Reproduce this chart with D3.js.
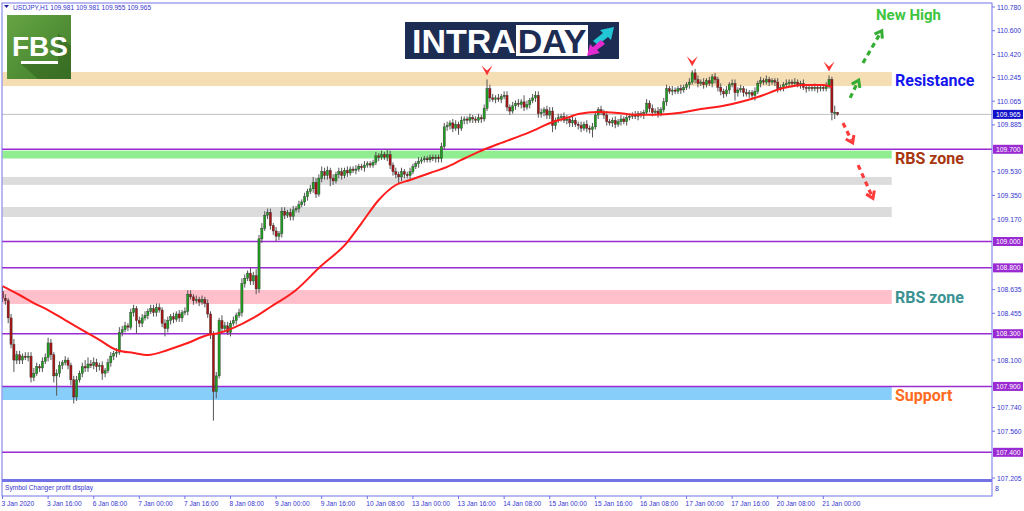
<!DOCTYPE html>
<html>
<head>
<meta charset="utf-8">
<script src="https://d3js.org/d3.v7.min.js"></script>
<style>
  body { margin: 0; background: #fff; }
  svg { display: block; }
</style>
</head>
<body>
<svg id="chart"></svg>
<script>
// ---- data ----
const firstOpen = 108.62;
const closes = [
  108.57,108.55,108.42,108.22,108.10,108.14,108.10,108.13,108.12,108.13,
  107.97,108.00,108.05,108.04,108.09,108.12,108.23,108.14,107.98,108.00,
  108.06,108.08,108.10,108.06,107.95,107.82,107.95,108.00,108.05,108.04,
  108.07,108.06,108.08,108.05,108.06,108.00,108.02,108.08,108.13,108.15,
  108.16,108.31,108.33,108.36,108.35,108.46,108.49,108.40,108.38,108.42,
  108.44,108.47,108.49,108.46,108.50,108.48,108.38,108.34,108.40,108.43,
  108.41,108.45,108.42,108.46,108.47,108.60,108.58,108.55,108.56,108.54,
  108.56,108.53,108.45,108.30,107.86,107.98,108.40,108.34,108.36,108.31,
  108.38,108.40,108.44,108.46,108.68,108.72,108.76,108.70,108.74,108.64,
  109.02,109.10,109.20,109.22,109.12,109.08,109.04,109.06,109.23,109.20,
  109.22,109.19,109.24,109.25,109.28,109.30,109.34,109.38,109.40,109.45,
  109.36,109.48,109.53,109.50,109.54,109.48,109.46,109.51,109.53,109.50,
  109.54,109.52,109.55,109.54,109.55,109.57,109.56,109.58,109.59,109.58,
  109.60,109.65,109.64,109.66,109.64,109.66,109.58,109.53,109.51,109.49,
  109.53,109.51,109.50,109.53,109.57,109.59,109.61,109.62,109.63,109.62,
  109.64,109.63,109.64,109.63,109.72,109.87,109.88,109.90,109.86,109.89,
  109.86,109.92,109.93,109.92,109.94,109.93,109.92,109.94,109.93,110.01,
  110.16,110.09,110.08,110.09,110.08,110.10,110.11,110.02,109.99,110.03,
  110.05,110.04,110.06,110.02,110.04,110.07,110.09,110.11,109.97,109.98,
  110.00,109.96,109.99,109.88,109.92,109.94,109.95,109.92,109.93,109.90,
  109.92,109.89,109.88,109.86,109.89,109.86,109.85,109.87,109.96,110.00,
  109.98,109.96,109.91,109.90,109.92,109.89,109.91,109.93,109.91,109.94,
  109.95,109.96,109.95,109.97,109.96,109.98,110.05,110.01,109.98,109.99,
  109.97,110.00,110.06,110.16,110.14,110.15,110.14,110.16,110.15,110.17,
  110.19,110.21,110.28,110.23,110.20,110.21,110.19,110.22,110.20,110.25,
  110.23,110.17,110.14,110.12,110.15,110.19,110.20,110.13,110.15,110.16,
  110.13,110.12,110.13,110.11,110.14,110.20,110.22,110.21,110.23,110.21,
  110.22,110.21,110.16,110.17,110.19,110.20,110.21,110.20,110.21,110.19,
  110.20,110.17,110.16,110.17,110.16,110.17,110.16,110.17,110.16,110.18,
  110.23,109.98,109.981,109.965
];
// wick lengths above / below the body, in pips
const wickUp = [
  4,3,2,3,4,3,3,2,3,3, 3,4,3,2,3,3,4,3,2,3, 3,2,3,2,2,3,3,2,3,5, 5,3,4,3,2,3,2,3,3,2,
  3,4,3,3,2,3,3,2,3,3, 3,2,3,3,3,3,2,3,3,2, 3,2,3,2,3,3,3,2,3,2, 3,2,3,2,2,3,2,4,3,3,
  2,3,2,3,4,3,2,4,3,5, 3,4,3,3,3,2,3,2,3,3, 2,3,3,2,3,2,3,2,3,4, 3,3,4,3,3,2,3,2,3,3,
  2,3,2,2,3,2,2,3,2,2, 2,3,2,3,2,4,3,2,3,2, 3,2,2,3,2,2,3,2,2,2, 2,2,2,2,3,3,3,2,3,3,
  2,3,2,2,3,2,2,3,2,3, 7,3,3,2,3,2,3,3,2,3, 2,3,2,5,3,2,3,3,3,3, 2,3,3,3,2,3,2,3,3,2,
  3,2,2,3,2,3,2,3,3,2, 3,2,3,2,2,3,2,3,2,2, 2,2,3,2,2,2,3,2,3,2, 3,2,3,3,2,3,2,2,3,2,
  2,3,2,3,3,2,3,2,3,2, 3,2,3,2,3,2,3,3,2,3, 2,3,2,2,3,2,3,2,3,2, 2,2,3,2,2,3,2,2,3,2,
  2,3,2,2,2,3,2,2,2,3, 3,2,5,0
];
const wickDown = [
  3,3,4,3,9,3,3,3,2,3, 4,3,2,3,3,2,3,4,5,15, 3,3,2,3,4,5,3,2,3,3, 3,2,3,4,3,5,3,2,3,3,
  3,2,3,2,3,2,3,10,3,3, 2,3,2,3,3,2,3,6,3,3, 3,2,3,3,2,3,2,3,2,3, 2,3,3,4,22,5,2,3,3,2,
  3,2,3,2,3,3,2,3,3,4, 3,3,2,3,3,3,4,3,3,3, 2,3,3,2,3,2,3,3,2,3, 3,2,3,3,3,6,3,2,3,3,
  2,3,2,2,3,2,2,3,2,2, 2,2,3,2,2,3,3,3,3,5, 3,3,2,3,2,2,3,2,2,2, 2,2,3,3,3,2,3,3,3,2,
  5,2,3,3,2,3,2,2,3,2, 2,3,2,3,2,3,2,3,3,2, 3,2,3,3,2,3,2,3,3,3, 3,3,3,5,3,2,3,2,3,3,
  3,2,3,3,2,3,3,6,2,3, 2,3,3,2,3,3,2,3,2,3, 2,2,2,3,2,3,2,3,3,2, 3,2,2,3,2,3,2,2,3,2,
  2,3,2,3,3,2,3,2,2,3, 3,3,3,3,2,3,2,6,3,2, 3,2,3,3,4,2,3,2,2,3, 2,3,3,2,3,2,2,3,2,2,
  3,2,3,2,2,2,3,2,2,2, 2,6,5,1
];

// moving average, sampled along the red line
const maBars   = [0, 6, 11, 16, 22, 28, 34, 40, 46, 51, 58, 65, 72, 76, 81, 88, 94, 103, 111, 121,
                  126, 132, 138, 143, 150, 156, 161, 167, 174, 185, 193, 199, 202, 209, 216, 222,
                  229, 237, 245, 253, 265, 274, 281, 288, 291];
const maValues = [108.662,108.594,108.533,108.480,108.404,108.328,108.253,108.177,108.154,108.139,
                  108.177,108.230,108.290,108.306,108.344,108.420,108.503,108.632,108.799,108.996,
                  109.140,109.315,109.429,109.467,109.520,109.566,109.619,109.680,109.740,109.830,
                  109.907,109.945,109.968,109.983,109.975,109.962,109.962,109.975,110.005,110.030,
                  110.097,110.165,110.188,110.188,110.173];

const timeLabels = ["3 Jan 2020","3 Jan 16:00","6 Jan 08:00","7 Jan 00:00","7 Jan 16:00","8 Jan 08:00",
                    "9 Jan 00:00","9 Jan 16:00","10 Jan 08:00","13 Jan 00:00","13 Jan 16:00","14 Jan 08:00",
                    "15 Jan 00:00","15 Jan 16:00","16 Jan 08:00","17 Jan 00:00","17 Jan 16:00","20 Jan 08:00",
                    "21 Jan 00:00"];
const timeLabelBars = [0,16,32,48,64,80,96,112,128,144,160,176,192,208,224,240,256,272,288];

const priceTicks = [110.780,110.600,110.420,110.245,110.065,109.885,109.530,109.350,109.170,
                    108.635,108.455,108.100,107.740,107.560,107.205];
const levelLines = [109.700,109.000,108.800,108.300,107.900,107.400];
const currentPrice = 109.965;
const header = "USDJPY,H1  109.981 109.981 109.955 109.965";

const zoneNames = ["resistance","green","gray1","gray2","pink","support"];
const zoneHigh  = [110.287,109.690,109.490,109.262,108.632,107.896];
const zoneLow   = [110.180,109.630,109.430,109.186,108.526,107.797];

const peakBars = [170, 242, 290];
// dashed projection arrows: [fromBar, fromPrice, toBar, toPrice]
const upArrows   = [[297.4,110.090,300.4,110.225],[301.9,110.355,308.5,110.600]];
const downArrows = [[294.9,109.900,298.3,109.748],[300.2,109.580,305.4,109.328]];

const zoneLabels = ["New High","Resistance","RBS zone","RBS zone","Support"];
const zoneLabelPrices = [110.680,110.180,109.590,108.530,107.790];

// ---- drawing ----
const W = 1024, H = 511;
const frame = "#7373e6", axisText = "#3535d0", purple = "#9a2ad2";
const svg = d3.select("#chart").attr("width", W).attr("height", H)
  .style("font-family", "'Liberation Sans', Arial, sans-serif");

const x = d3.scaleLinear().domain([0, 347]).range([2.5, 991.5]);
const y = d3.scaleLinear().domain([107.205, 110.780]).range([478, 7]);

svg.append("defs").append("clipPath").attr("id", "main")
  .append("rect").attr("x", 2).attr("y", 3).attr("width", 990).attr("height", 476);

const plot = svg.append("g").attr("clip-path", "url(#main)");

// zones
const zoneColor = { resistance: "#f5deb3", green: "#90ee90", gray1: "#dcdcdc", gray2: "#dcdcdc",
                    pink: "#ffc0cb", support: "#87cefa" };
zoneNames.forEach((z, i) => {
  plot.append("rect")
    .attr("x", x(0)).attr("width", x(312) - x(0))
    .attr("y", y(zoneHigh[i])).attr("height", y(zoneLow[i]) - y(zoneHigh[i]))
    .attr("fill", zoneColor[z]);
});

// level lines
plot.append("line").attr("x1", 2).attr("x2", 992)
  .attr("y1", y(currentPrice)).attr("y2", y(currentPrice))
  .attr("stroke", "#c0c0c0").attr("stroke-width", 1);
levelLines.forEach(v => {
  plot.append("line").attr("x1", 2).attr("x2", 992)
    .attr("y1", y(v)).attr("y2", y(v))
    .attr("stroke", purple).attr("stroke-width", 1.5);
});

// candles
const bars = closes.map((c, i) => {
  const o = i ? closes[i - 1] : firstOpen;
  return { i, o, c,
    h: Math.max(o, c) + wickUp[i] / 100,
    l: Math.min(o, c) - wickDown[i] / 100 };
});
const candle = plot.append("g").selectAll("g").data(bars).join("g");
candle.append("line")
  .attr("x1", d => x(d.i)).attr("x2", d => x(d.i))
  .attr("y1", d => y(d.h)).attr("y2", d => y(d.l))
  .attr("stroke", "#555").attr("stroke-width", 1);
candle.append("rect")
  .attr("x", d => x(d.i) - 1.1).attr("width", 2.2)
  .attr("y", d => y(Math.max(d.o, d.c)))
  .attr("height", d => Math.max(1, Math.abs(y(d.o) - y(d.c))))
  .attr("fill", d => d.c >= d.o ? "#1e9e1e" : "#a81414")
  .attr("stroke", "#333").attr("stroke-width", 0.4);

// moving average
plot.append("path")
  .datum(maBars.map((b, i) => [b, maValues[i]]))
  .attr("d", d3.line().x(d => x(d[0])).y(d => y(d[1])).curve(d3.curveMonotoneX))
  .attr("fill", "none").attr("stroke", "#ff1c1c").attr("stroke-width", 2);

// peak markers
peakBars.forEach(b => {
  const px = x(b), py = y(bars[b].h) - 4;
  plot.append("path")
    .attr("d", `M${px - 5.5},${py - 10} L${px},${py - 5} L${px + 5.5},${py - 10} L${px},${py} Z`)
    .attr("fill", "#ff3434");
});

// dashed arrows
function arrow(a, color) {
  const x1 = x(a[0]), y1 = y(a[1]), x2 = x(a[2]), y2 = y(a[3]);
  const ang = Math.atan2(y2 - y1, x2 - x1);
  plot.append("line").attr("x1", x1).attr("y1", y1)
    .attr("x2", x2 - 3 * Math.cos(ang)).attr("y2", y2 - 3 * Math.sin(ang))
    .attr("stroke", color).attr("stroke-width", 3.2).attr("stroke-dasharray", "5,4");
  const s = 8;
  const p1 = [x2 - s * Math.cos(ang - 0.6), y2 - s * Math.sin(ang - 0.6)];
  const p2 = [x2 - s * Math.cos(ang + 0.6), y2 - s * Math.sin(ang + 0.6)];
  plot.append("path").attr("d", `M${p1[0]},${p1[1]} L${x2},${y2} L${p2[0]},${p2[1]}`)
    .attr("fill", "none").attr("stroke", color).attr("stroke-width", 3);
}
upArrows.forEach(a => arrow(a, "#35ad35"));
downArrows.forEach(a => arrow(a, "#ff3c3c"));

// zone labels
const labelColor = ["#3ec43e", "#1515ee", "#a8360e", "#3a9292", "#ff6a22"];
zoneLabels.forEach((t, i) => {
  plot.append("text")
    .attr("x", i === 0 ? 876 : 895).attr("y", y(zoneLabelPrices[i]))
    .attr("font-family", "Roboto, 'Open Sans', sans-serif").attr("font-weight", 700)
    .attr("font-size", i === 0 ? 15 : 16)
    .attr("fill", labelColor[i]).text(t);
});

// FBS logo
const fbs = svg.append("g");
const grad = svg.select("defs").append("linearGradient").attr("id", "fbsg")
  .attr("x1", 0).attr("y1", 0).attr("x2", 1).attr("y2", 1);
grad.append("stop").attr("offset", 0).attr("stop-color", "#66a444");
grad.append("stop").attr("offset", 1).attr("stop-color", "#3f7c2a");
fbs.append("rect").attr("x", 7).attr("y", 15).attr("width", 64).attr("height", 64).attr("fill", "url(#fbsg)");
fbs.append("path").attr("d", "M58,33 L71,46 L71,79 L38,79 L21,64 L58,64 Z")
  .attr("fill", "#33631f").attr("opacity", 0.55);
fbs.append("text").attr("x", 40).attr("y", 56).attr("text-anchor", "middle")
  .attr("font-family", "'Liberation Sans Narrow', 'Liberation Sans', sans-serif")
  .attr("font-weight", 700).attr("font-size", 28).attr("fill", "#fff").text("FBS");
fbs.append("rect").attr("x", 21).attr("y", 61).attr("width", 37).attr("height", 3).attr("fill", "#fff");

// INTRADAY logo
const logo = svg.append("g");
logo.append("rect").attr("x", 405).attr("y", 22).attr("width", 214).attr("height", 37).attr("fill", "#1c2c52");
logo.append("text").attr("x", 412).attr("y", 53)
  .attr("font-family", "'Liberation Sans', Arial, sans-serif").attr("font-weight", 700)
  .attr("font-size", 34).attr("fill", "#fff").text("INTRA");
logo.append("rect").attr("x", 516).attr("y", 25).attr("width", 72).attr("height", 31).attr("fill", "#fff");
logo.append("text").attr("x", 552).attr("y", 53).attr("text-anchor", "middle")
  .attr("font-family", "'Liberation Sans', Arial, sans-serif").attr("font-weight", 700)
  .attr("font-size", 34).attr("fill", "#1c2c52").text("DAY");
logo.append("path").attr("d", "M593,41 L603,33 L600,30 L614,27 L611,40 L608,37 L598,45 Z").attr("fill", "#22c6d4");
logo.append("path").attr("d", "M605,44 L597,50 L600,53 L587,56 L590,44 L593,47 L601,40 Z").attr("fill", "#e22ad0");

// header text
svg.append("path").attr("d", "M4,5 L9,5 L6.5,8 Z").attr("fill", "#2020a0");
svg.append("text").attr("x", 13).attr("y", 9.5).attr("font-size", 6.6)
  .attr("fill", axisText).text(header);

// frame
svg.append("rect").attr("x", 2).attr("y", 3).attr("width", 990).attr("height", 493)
  .attr("fill", "none").attr("stroke", frame).attr("stroke-width", 1);
svg.append("rect").attr("x", 2).attr("y", 479).attr("width", 990).attr("height", 3).attr("fill", frame);
svg.append("text").attr("x", 5).attr("y", 490).attr("font-size", 6.6)
  .attr("fill", axisText).text("Symbol Changer profit display");
svg.append("text").attr("x", 995).attr("y", 491).attr("font-size", 7)
  .attr("fill", axisText).text("8");

// price axis
const yAxis = svg.append("g");
priceTicks.forEach(v => {
  yAxis.append("line").attr("x1", 992).attr("x2", 995).attr("y1", y(v)).attr("y2", y(v)).attr("stroke", frame);
  yAxis.append("text").attr("x", 997).attr("y", y(v) + 2.5).attr("font-size", 6.8)
    .attr("fill", axisText).text(v.toFixed(3));
});
function tag(v, color) {
  yAxis.append("rect").attr("x", 993).attr("y", y(v) - 4.5).attr("width", 30).attr("height", 9).attr("fill", color);
  yAxis.append("text").attr("x", 996).attr("y", y(v) + 2.5).attr("font-size", 6.8)
    .attr("fill", "#fff").text(v.toFixed(3));
}
levelLines.forEach(v => tag(v, purple));
tag(currentPrice, "#1010c8");

// time axis
const xAxis = svg.append("g");
timeLabelBars.forEach((b, i) => {
  xAxis.append("line").attr("x1", x(b)).attr("x2", x(b)).attr("y1", 496).attr("y2", 499).attr("stroke", frame);
  xAxis.append("text").attr("x", x(b) - 1).attr("y", 505.5).attr("font-size", 6.6)
    .attr("fill", axisText).text(timeLabels[i]);
});
</script>
</body>
</html>
